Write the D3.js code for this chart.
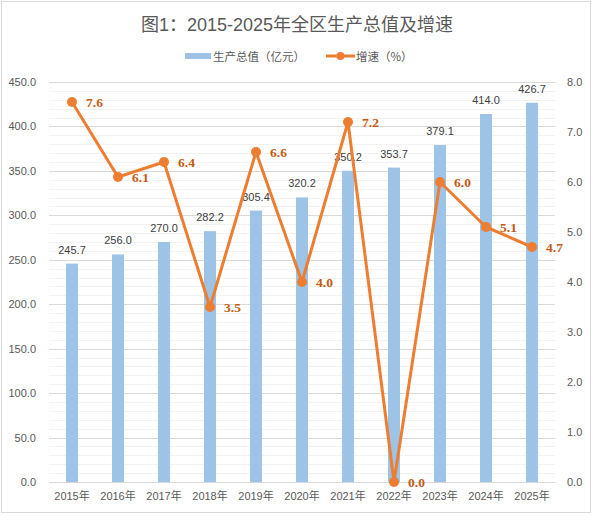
<!DOCTYPE html>
<html>
<head>
<meta charset="utf-8">
<script src="https://cdn.jsdelivr.net/npm/d3@7"></script>
<style>
  body { margin: 0; background: #fff; }
  svg { display: block; }
</style>
</head>
<body>
<div id="chart"></div>
<script>
// data
const years = ["2015年", "2016年", "2017年", "2018年", "2019年", "2020年", "2021年", "2022年", "2023年", "2024年", "2025年"];
const gdp = [245.7, 256.0, 270.0, 282.2, 305.4, 320.2, 350.2, 353.7, 379.1, 414.0, 426.7];
const growth = [7.6, 6.1, 6.4, 3.5, 6.6, 4.0, 7.2, 0.0, 6.0, 5.1, 4.7];
const leftTicks = [0, 50, 100, 150, 200, 250, 300, 350, 400, 450];
const rightTicks = [0, 1, 2, 3, 4, 5, 6, 7, 8];

const width = 594, height = 516;
const margin = {top: 82, right: 39, bottom: 34, left: 49};
const chartW = width - margin.left - margin.right;
const chartH = height - margin.top - margin.bottom;

const barColor = "#9DC3E6", lineColor = "#ED7D31", lineLabelColor = "#C55A11";
const textColor = "#595959";
const latin = "'Liberation Sans', 'Noto Sans CJK SC', sans-serif";
const cjk = "'Noto Sans CJK SC', sans-serif";

const svg = d3.select("#chart").append("svg")
    .attr("width", width)
    .attr("height", height);

// outer border
svg.append("rect")
    .attr("x", 1.5).attr("y", 1.5)
    .attr("width", 589).attr("height", 511)
    .attr("fill", "#fff")
    .attr("stroke", "#D9D9D9");

// title
svg.append("text")
    .attr("x", 297).attr("y", 31)
    .attr("text-anchor", "middle")
    .style("font-family", latin)
    .style("font-size", "18px")
    .attr("fill", textColor)
    .text("图1：2015-2025年全区生产总值及增速");

// legend
const legend = svg.append("g");
legend.append("rect")
    .attr("x", 185).attr("y", 53)
    .attr("width", 26).attr("height", 6)
    .attr("fill", barColor);
legend.append("text")
    .attr("x", 213).attr("y", 61)
    .style("font-family", cjk).style("font-size", "11.5px")
    .attr("fill", textColor)
    .text("生产总值（亿元）");
legend.append("line")
    .attr("x1", 326).attr("x2", 355).attr("y1", 56).attr("y2", 56)
    .attr("stroke", lineColor).attr("stroke-width", 3);
legend.append("circle")
    .attr("cx", 340.5).attr("cy", 56).attr("r", 4)
    .attr("fill", lineColor);
legend.append("text")
    .attr("x", 356).attr("y", 61)
    .style("font-family", cjk).style("font-size", "11.5px")
    .attr("fill", textColor)
    .text("增速（%）");

const chart = svg.append("g")
    .attr("transform", `translate(${margin.left},${margin.top})`);

// scales
const scaleX = d3.scaleBand(years, [0, chartW]);
const scaleY = d3.scaleLinear([0, 450], [chartH, 0]);
const scaleY2 = d3.scaleLinear([0, 8], [chartH, 0]);
const barW = 12;

// gridlines: minor every 10, major every 50
const minor = d3.range(0, 451, 10).filter(v => v % 50 !== 0);
chart.append("g").selectAll("line")
    .data(minor)
    .join("line")
    .attr("x1", 0).attr("x2", chartW)
    .attr("y1", d => Math.round(scaleY(d)) + 0.5)
    .attr("y2", d => Math.round(scaleY(d)) + 0.5)
    .attr("stroke", "#F2F2F2");
chart.append("g").selectAll("line")
    .data(leftTicks)
    .join("line")
    .attr("x1", 0).attr("x2", chartW)
    .attr("y1", d => Math.round(scaleY(d)) + 0.5)
    .attr("y2", d => Math.round(scaleY(d)) + 0.5)
    .attr("stroke", "#D9D9D9");

// axes
const axisL = chart.append("g")
    .call(d3.axisLeft(scaleY).tickValues(leftTicks).tickSize(0).tickPadding(13)
        .tickFormat(d3.format(".1f")));
const axisR = chart.append("g")
    .attr("transform", `translate(${chartW},0)`)
    .call(d3.axisRight(scaleY2).tickValues(rightTicks).tickSize(0).tickPadding(12)
        .tickFormat(d3.format(".1f")));
const axisB = chart.append("g")
    .attr("transform", `translate(0,${chartH})`)
    .call(d3.axisBottom(scaleX).tickSize(0).tickPadding(10));
[axisL, axisR, axisB].forEach(a => {
    a.select(".domain").remove();
    a.selectAll("text")
        .style("font-family", latin)
        .style("font-size", "11px")
        .attr("fill", textColor);
});

// bars
chart.append("g").selectAll("rect")
    .data(years.map((y, i) => [y, gdp[i]]))
    .join("rect")
    .attr("x", d => scaleX(d[0]) + scaleX.bandwidth() / 2 - barW / 2)
    .attr("y", d => scaleY(d[1]))
    .attr("width", barW)
    .attr("height", d => scaleY(0) - scaleY(d[1]))
    .attr("fill", barColor);

// bottom axis line
chart.append("line")
    .attr("x1", 0).attr("x2", chartW)
    .attr("y1", chartH + 0.5).attr("y2", chartH + 0.5)
    .attr("stroke", "#D9D9D9");

// bar labels
chart.append("g").selectAll("text")
    .data(years.map((y, i) => [y, gdp[i]]))
    .join("text")
    .attr("x", d => scaleX(d[0]) + scaleX.bandwidth() / 2)
    .attr("y", d => scaleY(d[1]) - 10)
    .attr("text-anchor", "middle")
    .style("font-family", latin)
    .style("font-size", "11px")
    .attr("fill", "#404040")
    .text(d => d[1].toFixed(1));

// growth line
const pts = years.map((y, i) => [y, growth[i]]);
const cx = d => scaleX(d[0]) + scaleX.bandwidth() / 2;
chart.append("path")
    .datum(pts)
    .attr("d", d3.line().x(cx).y(d => scaleY2(d[1])))
    .attr("fill", "none")
    .attr("stroke", lineColor)
    .attr("stroke-width", 3)
    .attr("stroke-linejoin", "round");
chart.append("g").selectAll("circle")
    .data(pts)
    .join("circle")
    .attr("cx", cx)
    .attr("cy", d => scaleY2(d[1]))
    .attr("r", 5)
    .attr("fill", lineColor);
chart.append("g").selectAll("text")
    .data(pts)
    .join("text")
    .attr("x", d => cx(d) + 14)
    .attr("y", d => scaleY2(d[1]))
    .attr("dy", "0.35em")
    .style("font-family", "'Liberation Serif', serif")
    .style("font-size", "13.5px")
    .style("font-weight", "bold")
    .attr("fill", lineLabelColor)
    .text(d => d[1].toFixed(1));
</script>
</body>
</html>
